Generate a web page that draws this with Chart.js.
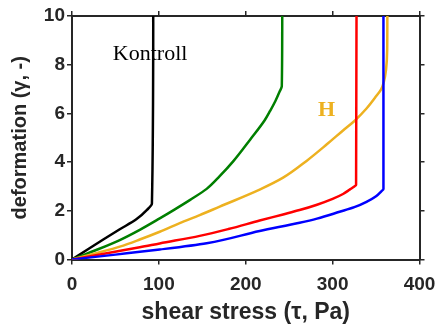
<!DOCTYPE html>
<html>
<head>
<meta charset="utf-8">
<script src="https://cdn.jsdelivr.net/npm/chart.js@4"></script>
<style>
  html, body { margin: 0; padding: 0; background: #fff; }
  canvas { display: block; }
</style>
</head>
<body>
<canvas id="grafico" width="438" height="324"></canvas>
<script>
// valores (tau en Pa, gamma sin unidad)
const kontrollStress = [0, 17, 36, 55, 74, 86, 92, 93.5];
const kontrollDeform = [0, 0.39, 0.82, 1.24, 1.65, 2.03, 2.3, 10];

const greenStress = [0, 30, 55, 78, 101, 117, 136, 155, 170, 186, 205, 222, 228, 234, 239, 241.5, 242];
const greenDeform = [0, 0.42, 0.8, 1.22, 1.69, 2.03, 2.45, 2.9, 3.42, 4.05, 4.92, 5.73, 6.1, 6.5, 6.9, 7.12, 10];

const redStress = [0, 40, 78, 101, 147, 180, 216, 243, 262, 282, 300, 312, 320, 325, 327, 327.5];
const redDeform = [0, 0.26, 0.5, 0.66, 0.97, 1.25, 1.6, 1.85, 2.03, 2.25, 2.49, 2.69, 2.88, 3.0, 3.06, 10];

const blueStress = [0, 50, 101, 155, 216, 262, 282, 308, 325, 339, 350, 356, 358.5, 358.5];
const blueDeform = [0, 0.2, 0.41, 0.67, 1.17, 1.51, 1.68, 1.96, 2.15, 2.37, 2.6, 2.8, 2.9, 10];

const hStress = [0, 30, 55, 78, 101, 124, 147, 170, 216, 243, 270, 293, 312, 326, 339, 350, 356, 359, 361.5, 362.8, 363];
const hDeform = [0, 0.28, 0.53, 0.82, 1.14, 1.49, 1.82, 2.17, 2.87, 3.36, 4.05, 4.72, 5.3, 5.72, 6.2, 6.7, 7.0, 7.3, 7.8, 8.6, 10];

const xTicks = [0, 100, 200, 300, 400];
const yTicks = [0, 2, 4, 6, 8, 10];

const axisColor = "#262626";
const hColor = "#EDB120";

const toPoints = (xs, ys) => xs.map((x, i) => ({ x: x, y: ys[i] }));

// curvas monotonas en gamma -> se interpolan sobre el eje y
const serie = (xs, ys, color) => ({
  data: toPoints(xs, ys),
  borderColor: color,
  borderWidth: 2.5,
  pointRadius: 0,
  showLine: true,
  fill: false,
  cubicInterpolationMode: "monotone"
});

// etiquetas de texto dentro del grafico
const notas = [
  { text: "Kontroll", x: 47, y: 8.45, color: "#000", font: "22px 'Liberation Serif'" },
  { text: "H", x: 293, y: 6.12, color: hColor, font: "bold 22px 'Liberation Serif'" }
];

const notasPlugin = {
  id: "notas",
  afterDatasetsDraw(chart) {
    const ctx = chart.ctx;
    ctx.save();
    notas.forEach(n => {
      ctx.font = n.font;
      ctx.fillStyle = n.color;
      ctx.textAlign = n.text === "H" ? "center" : "left";
      ctx.textBaseline = "middle";
      ctx.fillText(n.text, chart.scales.x.getPixelForValue(n.x), chart.scales.y.getPixelForValue(n.y));
    });
    ctx.restore();
  }
};

const fam = "'Liberation Sans', Arial, sans-serif";
const yTickFont = { family: fam, size: 19, weight: "bold" };
const xTickFont = { family: fam, size: 19, weight: "bold", lineHeight: 1.94 };
const xTitleFont = { family: fam, size: 23, weight: "bold", lineHeight: 1 };
const yTitleFont = { family: fam, size: 20, weight: "bold", lineHeight: 1 };

const gridOpts = { drawOnChartArea: false, drawTicks: true, tickLength: 5, color: axisColor, lineWidth: 1.5 };
const borderOpts = { color: axisColor, width: 2 };
const hiddenTicks = { callback: () => "", padding: 0, maxRotation: 0, minRotation: 0 };

new Chart(document.getElementById("grafico"), {
  type: "scatter",
  data: {
    datasets: [
      serie(blueStress, blueDeform, "#0000FF"),
      serie(redStress, redDeform, "#FF0000"),
      serie(hStress, hDeform, hColor),
      serie(greenStress, greenDeform, "#007F00"),
      serie(kontrollStress, kontrollDeform, "#000000")
    ]
  },
  options: {
    indexAxis: "y",
    responsive: false,
    animation: false,
    devicePixelRatio: 1,
    layout: { padding: 0 },
    plugins: { legend: { display: false }, tooltip: { enabled: false } },
    scales: {
      x: {
        type: "linear", position: "bottom", min: 0, max: 400,
        afterBuildTicks: s => { s.ticks = xTicks.map(v => ({ value: v })); },
        ticks: { color: axisColor, font: xTickFont, padding: 2, maxRotation: 0 },
        grid: gridOpts, border: borderOpts,
        title: { display: true, text: "shear stress (τ, Pa)", color: axisColor, font: xTitleFont, padding: 0 },
        afterFit: s => { s.height = 64.5; }
      },
      y: {
        type: "linear", position: "left", min: 0, max: 10,
        afterBuildTicks: s => { s.ticks = yTicks.map(v => ({ value: v })); },
        ticks: { color: axisColor, font: yTickFont, padding: 2 },
        grid: gridOpts, border: borderOpts,
        title: { display: true, text: "deformation (γ, -)", color: axisColor, font: yTitleFont, padding: { top: 10 } },
        afterFit: s => { s.width = 72; }
      },
      x2: {
        type: "linear", position: "top", min: 0, max: 400,
        afterBuildTicks: s => { s.ticks = xTicks.map(v => ({ value: v })); },
        ticks: hiddenTicks,
        grid: gridOpts, border: borderOpts,
        afterFit: s => { s.height = 16; }
      },
      y2: {
        type: "linear", position: "right", min: 0, max: 10,
        afterBuildTicks: s => { s.ticks = yTicks.map(v => ({ value: v })); },
        ticks: hiddenTicks,
        grid: gridOpts, border: borderOpts,
        afterFit: s => { s.width = 18.5; }
      }
    }
  },
  plugins: [notasPlugin]
});
</script>
</body>
</html>
